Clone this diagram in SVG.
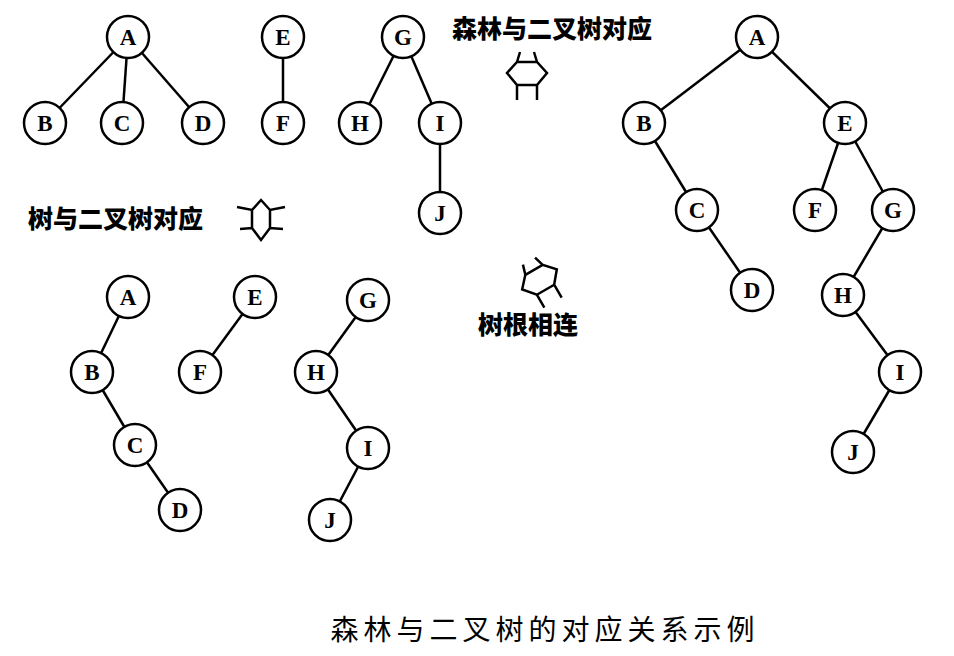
<svg xmlns="http://www.w3.org/2000/svg" width="954" height="656" viewBox="0 0 954 656">
<style>
circle{fill:#fff;stroke:#000;stroke-width:2.5}
.n text{font-family:"Liberation Serif",serif;font-weight:bold;font-size:23px;text-anchor:middle;dominant-baseline:central}
.e line{stroke:#000;stroke-width:2.5}
.s{fill:none;stroke:#000;stroke-width:2.5}
.t{font-family:"Noto Sans CJK SC",sans-serif;font-weight:900;font-size:25px}
</style>
<rect width="954" height="656" fill="#fff"/>
<g class="e">
<line x1="128" y1="37" x2="45" y2="123"/><line x1="128" y1="37" x2="122" y2="123"/><line x1="128" y1="37" x2="203" y2="123"/>
<line x1="283" y1="37" x2="283" y2="123"/>
<line x1="403" y1="37" x2="360" y2="123"/><line x1="403" y1="37" x2="440" y2="123"/><line x1="440" y1="123" x2="440" y2="213"/>
<line x1="757" y1="37" x2="644" y2="123"/><line x1="757" y1="37" x2="845" y2="123"/>
<line x1="644" y1="123" x2="697" y2="210"/><line x1="697" y1="210" x2="752" y2="290"/>
<line x1="845" y1="123" x2="815" y2="210"/><line x1="845" y1="123" x2="893" y2="210"/>
<line x1="893" y1="210" x2="843" y2="295"/><line x1="843" y1="295" x2="900" y2="372"/><line x1="900" y1="372" x2="853" y2="452"/>
<line x1="128" y1="297" x2="92" y2="372"/><line x1="92" y1="372" x2="135" y2="445"/><line x1="135" y1="445" x2="180" y2="510"/>
<line x1="255" y1="297" x2="200" y2="372"/>
<line x1="368" y1="300" x2="316" y2="372"/><line x1="316" y1="372" x2="368" y2="448"/><line x1="368" y1="448" x2="330" y2="520"/>
</g>
<g class="n">
<g id="t1A"><circle cx="128" cy="37" r="21"/><text x="128" y="37">A</text></g>
<g id="t1B"><circle cx="45" cy="123" r="21"/><text x="45" y="123">B</text></g>
<g id="t1C"><circle cx="122" cy="123" r="21"/><text x="122" y="123">C</text></g>
<g id="t1D"><circle cx="203" cy="123" r="21"/><text x="203" y="123">D</text></g>
<g id="t1E"><circle cx="283" cy="37" r="21"/><text x="283" y="37">E</text></g>
<g id="t1F"><circle cx="283" cy="123" r="21"/><text x="283" y="123">F</text></g>
<g id="t1G"><circle cx="403" cy="37" r="21"/><text x="403" y="37">G</text></g>
<g id="t1H"><circle cx="360" cy="123" r="21"/><text x="360" y="123">H</text></g>
<g id="t1I"><circle cx="440" cy="123" r="21"/><text x="440" y="123">I</text></g>
<g id="t1J"><circle cx="440" cy="213" r="21"/><text x="440" y="213">J</text></g>
<g id="bA"><circle cx="757" cy="37" r="21"/><text x="757" y="37">A</text></g>
<g id="bB"><circle cx="644" cy="123" r="21"/><text x="644" y="123">B</text></g>
<g id="bE"><circle cx="845" cy="123" r="21"/><text x="845" y="123">E</text></g>
<g id="bC"><circle cx="697" cy="210" r="21"/><text x="697" y="210">C</text></g>
<g id="bF"><circle cx="815" cy="210" r="21"/><text x="815" y="210">F</text></g>
<g id="bG"><circle cx="893" cy="210" r="21"/><text x="893" y="210">G</text></g>
<g id="bD"><circle cx="752" cy="290" r="21"/><text x="752" y="290">D</text></g>
<g id="bH"><circle cx="843" cy="295" r="21"/><text x="843" y="295">H</text></g>
<g id="bI"><circle cx="900" cy="372" r="21"/><text x="900" y="372">I</text></g>
<g id="bJ"><circle cx="853" cy="452" r="21"/><text x="853" y="452">J</text></g>
<g id="cA"><circle cx="128" cy="297" r="21"/><text x="128" y="297">A</text></g>
<g id="cB"><circle cx="92" cy="372" r="21"/><text x="92" y="372">B</text></g>
<g id="cC"><circle cx="135" cy="445" r="21"/><text x="135" y="445">C</text></g>
<g id="cD"><circle cx="180" cy="510" r="21"/><text x="180" y="510">D</text></g>
<g id="cE"><circle cx="255" cy="297" r="21"/><text x="255" y="297">E</text></g>
<g id="cF"><circle cx="200" cy="372" r="21"/><text x="200" y="372">F</text></g>
<g id="cG"><circle cx="368" cy="300" r="21"/><text x="368" y="300">G</text></g>
<g id="cH"><circle cx="316" cy="372" r="21"/><text x="316" y="372">H</text></g>
<g id="cI"><circle cx="368" cy="448" r="21"/><text x="368" y="448">I</text></g>
<g id="cJ"><circle cx="330" cy="520" r="21"/><text x="330" y="520">J</text></g>
</g>
<defs>
<g id="sym">
<path class="s" d="M-10,-6 L10,-6 L20,5 L10,17 L-10,17 L-20,5 Z M-10,-6 L-7,-16 M10,-6 L7,-16 M-10,17 L-10,32 M10,17 L10,32"/>
</g>
</defs>
<use href="#sym" transform="translate(527,68)"/>
<path class="s" d="M237,207 L252,210 L261,200 L270,210 L285,207 M240,229 L252,228 L261,240 L270,228 L283,229 M252,210 L252,228 M270,210 L270,228"/>
<use href="#sym" transform="translate(537,275) rotate(-30)"/>
<text class="t" x="452" y="38">森林与二叉树对应</text>
<text class="t" x="28" y="228">树与二叉树对应</text>
<text class="t" x="478" y="334">树根相连</text>
<text x="545" y="640" text-anchor="middle" style="font-family:'Noto Sans CJK SC',serif;font-size:28px;letter-spacing:5px">森林与二叉树的对应关系示例</text>
</svg>
